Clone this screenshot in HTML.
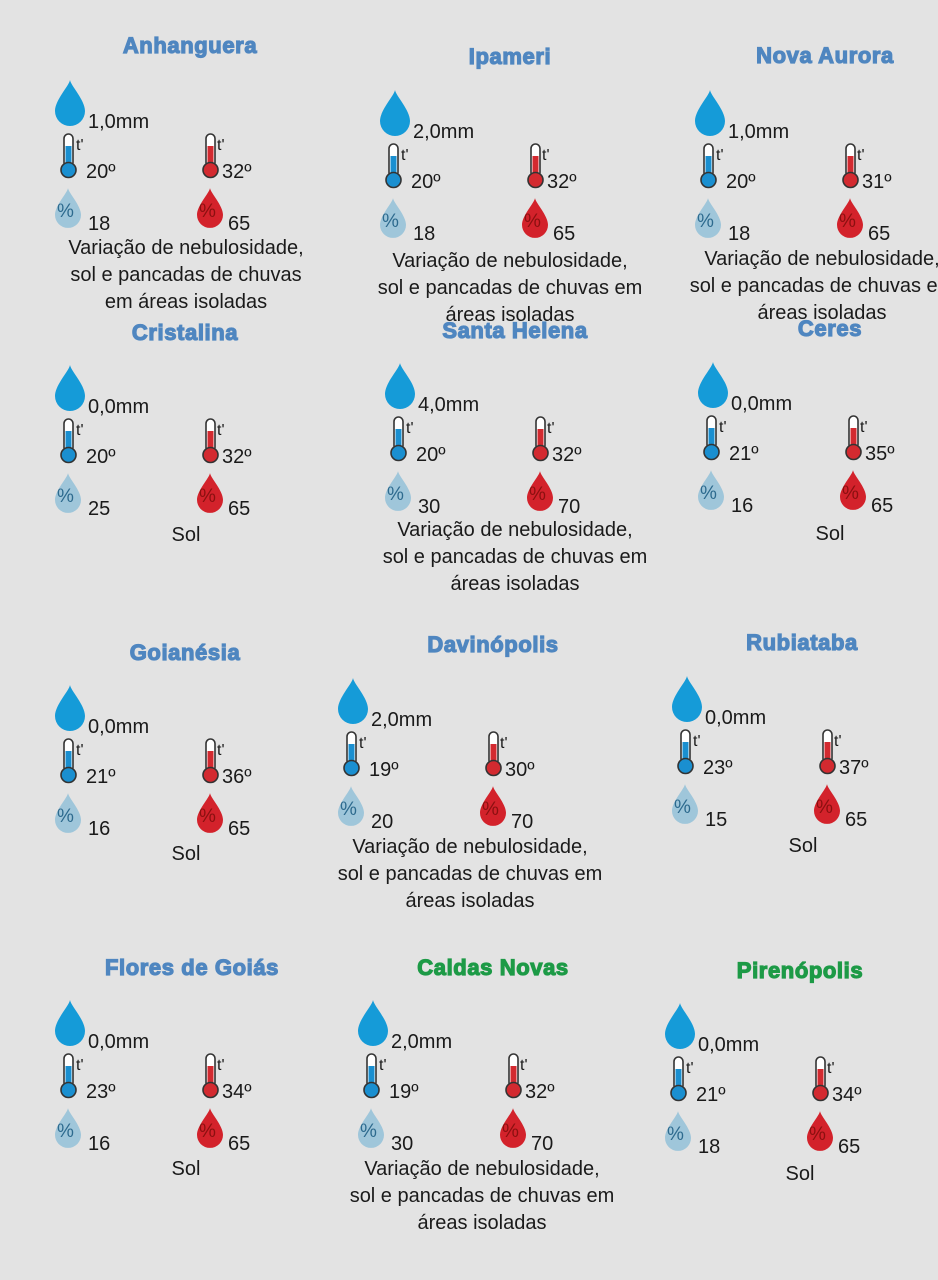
<!DOCTYPE html>
<html><head><meta charset="utf-8"><style>
body{margin:0;width:938px;height:1280px;background:#e3e3e3;position:relative;overflow:hidden;font-family:"Liberation Sans","DejaVu Sans",sans-serif;color:#1a1a1a}
.ti{position:absolute;width:320px;text-align:center;font-weight:bold;font-size:22px;letter-spacing:0.6px;color:#4f86c0;-webkit-text-stroke:1.2px #4f86c0;white-space:nowrap}
.g{color:#1d9a46;-webkit-text-stroke:1.2px #1d9a46}
.b{position:absolute;width:260px;height:160px}
.b>*{position:absolute}
.b span{font-size:20px;white-space:nowrap;line-height:22px}
.d{left:0;top:0;width:30px;height:46px;color:#159bd8}
.mm{left:33px;top:31px}
.t1{left:4px;top:53px;width:20px;height:46px;color:#1a8fd0}
.t2{left:146px;top:53px;width:20px;height:46px;color:#d32a30}
.tl{font-size:16px!important;top:55px}
.v1{left:31px;top:81px}.v2{left:167px;top:81px}
.h1{left:0;top:106px;width:26px;height:44px;color:#9fc6da}
.h2{left:142px;top:106px;width:26px;height:44px;color:#d3222b}
.p{font-size:19px!important;top:121px}
.n1{left:33px;top:133px}.n2{left:173px;top:133px}
.ds{position:absolute;width:400px;text-align:center;font-size:20px;line-height:27px}
</style></head><body>
<svg width="0" height="0" style="position:absolute">
<symbol id="drop" viewBox="0 0 30 46"><path d="M15 0C14 6 0 20 0 31a15 15 0 0 0 30 0C30 20 16 6 15 0Z" fill="currentColor"/></symbol>
<symbol id="th" viewBox="0 0 20 46"><rect x="5" y="1" width="9" height="33" rx="4.5" fill="#fff" stroke="#333" stroke-width="1.6"/><rect x="6.5" y="13" width="6" height="22" fill="currentColor"/><circle cx="9.5" cy="37" r="7.5" fill="currentColor" stroke="#333" stroke-width="1.6"/></symbol>
</svg>

<div class="ti" style="left:30px;top:33px">Anhanguera</div>
<div class="b" style="left:55px;top:80px"><svg class="d"><use href="#drop"/></svg><span class="mm">1,0mm</span><svg class="t1"><use href="#th"/></svg><span class="tl" style="left:21px">t'</span><span class="v1">20º</span><svg class="t2"><use href="#th"/></svg><span class="tl" style="left:162px">t'</span><span class="v2" style="left:167px">32º</span><svg class="h1"><use href="#drop"/></svg><span class="p" style="left:2px;color:#2d6a8e">%</span><svg class="h2"><use href="#drop"/></svg><span class="p" style="left:144px;color:#8a1010">%</span><span class="n1">18</span><span class="n2">65</span></div>
<div class="ds" style="left:-14px;top:235px">Variação de nebulosidade,<br>sol e pancadas de chuvas<br>em áreas isoladas</div>

<div class="ti" style="left:350px;top:44px">Ipameri</div>
<div class="b" style="left:380px;top:90px"><svg class="d"><use href="#drop"/></svg><span class="mm">2,0mm</span><svg class="t1"><use href="#th"/></svg><span class="tl" style="left:21px">t'</span><span class="v1">20º</span><svg class="t2"><use href="#th"/></svg><span class="tl" style="left:162px">t'</span><span class="v2">32º</span><svg class="h1"><use href="#drop"/></svg><span class="p" style="left:2px;color:#2d6a8e">%</span><svg class="h2"><use href="#drop"/></svg><span class="p" style="left:144px;color:#8a1010">%</span><span class="n1">18</span><span class="n2">65</span></div>
<div class="ds" style="left:310px;top:248px">Variação de nebulosidade,<br>sol e pancadas de chuvas em<br>áreas isoladas</div>

<div class="ti" style="left:665px;top:43px">Nova Aurora</div>
<div class="b" style="left:695px;top:90px"><svg class="d"><use href="#drop"/></svg><span class="mm">1,0mm</span><svg class="t1"><use href="#th"/></svg><span class="tl" style="left:21px">t'</span><span class="v1">20º</span><svg class="t2"><use href="#th"/></svg><span class="tl" style="left:162px">t'</span><span class="v2">31º</span><svg class="h1"><use href="#drop"/></svg><span class="p" style="left:2px;color:#2d6a8e">%</span><svg class="h2"><use href="#drop"/></svg><span class="p" style="left:144px;color:#8a1010">%</span><span class="n1">18</span><span class="n2">65</span></div>
<div class="ds" style="left:622px;top:246px">Variação de nebulosidade,<br>sol e pancadas de chuvas em<br>áreas isoladas</div>

<div class="ti" style="left:25px;top:320px">Cristalina</div>
<div class="b" style="left:55px;top:365px"><svg class="d"><use href="#drop"/></svg><span class="mm">0,0mm</span><svg class="t1"><use href="#th"/></svg><span class="tl" style="left:21px">t'</span><span class="v1">20º</span><svg class="t2"><use href="#th"/></svg><span class="tl" style="left:162px">t'</span><span class="v2">32º</span><svg class="h1"><use href="#drop"/></svg><span class="p" style="left:2px;color:#2d6a8e">%</span><svg class="h2"><use href="#drop"/></svg><span class="p" style="left:144px;color:#8a1010">%</span><span class="n1">25</span><span class="n2">65</span></div>
<div class="ds" style="left:-14px;top:522px">Sol</div>

<div class="ti" style="left:355px;top:318px">Santa Helena</div>
<div class="b" style="left:385px;top:363px"><svg class="d"><use href="#drop"/></svg><span class="mm">4,0mm</span><svg class="t1"><use href="#th"/></svg><span class="tl" style="left:21px">t'</span><span class="v1">20º</span><svg class="t2"><use href="#th"/></svg><span class="tl" style="left:162px">t'</span><span class="v2">32º</span><svg class="h1"><use href="#drop"/></svg><span class="p" style="left:2px;color:#2d6a8e">%</span><svg class="h2"><use href="#drop"/></svg><span class="p" style="left:144px;color:#8a1010">%</span><span class="n1">30</span><span class="n2">70</span></div>
<div class="ds" style="left:315px;top:517px">Variação de nebulosidade,<br>sol e pancadas de chuvas em<br>áreas isoladas</div>

<div class="ti" style="left:670px;top:316px">Ceres</div>
<div class="b" style="left:698px;top:362px"><svg class="d"><use href="#drop"/></svg><span class="mm">0,0mm</span><svg class="t1"><use href="#th"/></svg><span class="tl" style="left:21px">t'</span><span class="v1">21º</span><svg class="t2"><use href="#th"/></svg><span class="tl" style="left:162px">t'</span><span class="v2">35º</span><svg class="h1"><use href="#drop"/></svg><span class="p" style="left:2px;color:#2d6a8e">%</span><svg class="h2"><use href="#drop"/></svg><span class="p" style="left:144px;color:#8a1010">%</span><span class="n1">16</span><span class="n2">65</span></div>
<div class="ds" style="left:630px;top:521px">Sol</div>

<div class="ti" style="left:25px;top:640px">Goianésia</div>
<div class="b" style="left:55px;top:685px"><svg class="d"><use href="#drop"/></svg><span class="mm">0,0mm</span><svg class="t1"><use href="#th"/></svg><span class="tl" style="left:21px">t'</span><span class="v1">21º</span><svg class="t2"><use href="#th"/></svg><span class="tl" style="left:162px">t'</span><span class="v2">36º</span><svg class="h1"><use href="#drop"/></svg><span class="p" style="left:2px;color:#2d6a8e">%</span><svg class="h2"><use href="#drop"/></svg><span class="p" style="left:144px;color:#8a1010">%</span><span class="n1">16</span><span class="n2">65</span></div>
<div class="ds" style="left:-14px;top:841px">Sol</div>

<div class="ti" style="left:333px;top:632px">Davinópolis</div>
<div class="b" style="left:338px;top:678px"><svg class="d"><use href="#drop"/></svg><span class="mm">2,0mm</span><svg class="t1"><use href="#th"/></svg><span class="tl" style="left:21px">t'</span><span class="v1">19º</span><svg class="t2"><use href="#th"/></svg><span class="tl" style="left:162px">t'</span><span class="v2">30º</span><svg class="h1"><use href="#drop"/></svg><span class="p" style="left:2px;color:#2d6a8e">%</span><svg class="h2"><use href="#drop"/></svg><span class="p" style="left:144px;color:#8a1010">%</span><span class="n1">20</span><span class="n2">70</span></div>
<div class="ds" style="left:270px;top:834px">Variação de nebulosidade,<br>sol e pancadas de chuvas em<br>áreas isoladas</div>

<div class="ti" style="left:642px;top:630px">Rubiataba</div>
<div class="b" style="left:672px;top:676px"><svg class="d"><use href="#drop"/></svg><span class="mm">0,0mm</span><svg class="t1"><use href="#th"/></svg><span class="tl" style="left:21px">t'</span><span class="v1">23º</span><svg class="t2"><use href="#th"/></svg><span class="tl" style="left:162px">t'</span><span class="v2">37º</span><svg class="h1"><use href="#drop"/></svg><span class="p" style="left:2px;color:#2d6a8e">%</span><svg class="h2"><use href="#drop"/></svg><span class="p" style="left:144px;color:#8a1010">%</span><span class="n1">15</span><span class="n2">65</span></div>
<div class="ds" style="left:603px;top:833px">Sol</div>

<div class="ti" style="left:32px;top:955px">Flores de Goiás</div>
<div class="b" style="left:55px;top:1000px"><svg class="d"><use href="#drop"/></svg><span class="mm">0,0mm</span><svg class="t1"><use href="#th"/></svg><span class="tl" style="left:21px">t'</span><span class="v1">23º</span><svg class="t2"><use href="#th"/></svg><span class="tl" style="left:162px">t'</span><span class="v2">34º</span><svg class="h1"><use href="#drop"/></svg><span class="p" style="left:2px;color:#2d6a8e">%</span><svg class="h2"><use href="#drop"/></svg><span class="p" style="left:144px;color:#8a1010">%</span><span class="n1">16</span><span class="n2">65</span></div>
<div class="ds" style="left:-14px;top:1156px">Sol</div>

<div class="ti g" style="left:333px;top:955px">Caldas Novas</div>
<div class="b" style="left:358px;top:1000px"><svg class="d"><use href="#drop"/></svg><span class="mm">2,0mm</span><svg class="t1"><use href="#th"/></svg><span class="tl" style="left:21px">t'</span><span class="v1">19º</span><svg class="t2"><use href="#th"/></svg><span class="tl" style="left:162px">t'</span><span class="v2">32º</span><svg class="h1"><use href="#drop"/></svg><span class="p" style="left:2px;color:#2d6a8e">%</span><svg class="h2"><use href="#drop"/></svg><span class="p" style="left:144px;color:#8a1010">%</span><span class="n1">30</span><span class="n2">70</span></div>
<div class="ds" style="left:282px;top:1156px">Variação de nebulosidade,<br>sol e pancadas de chuvas em<br>áreas isoladas</div>

<div class="ti g" style="left:640px;top:958px">Pirenópolis</div>
<div class="b" style="left:665px;top:1003px"><svg class="d"><use href="#drop"/></svg><span class="mm">0,0mm</span><svg class="t1"><use href="#th"/></svg><span class="tl" style="left:21px">t'</span><span class="v1">21º</span><svg class="t2"><use href="#th"/></svg><span class="tl" style="left:162px">t'</span><span class="v2">34º</span><svg class="h1"><use href="#drop"/></svg><span class="p" style="left:2px;color:#2d6a8e">%</span><svg class="h2"><use href="#drop"/></svg><span class="p" style="left:144px;color:#8a1010">%</span><span class="n1">18</span><span class="n2">65</span></div>
<div class="ds" style="left:600px;top:1161px">Sol</div>
</body></html>
